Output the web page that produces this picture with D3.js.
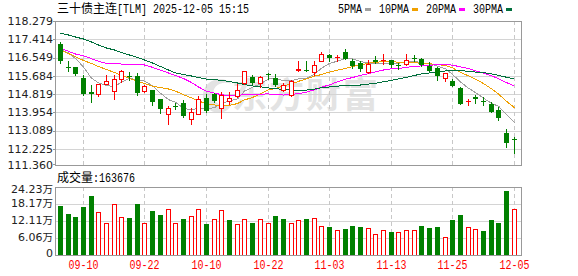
<!DOCTYPE html>
<html>
<head>
<meta charset="utf-8">
<script src="https://cdn.jsdelivr.net/npm/d3@7"></script>
<style>
body { margin: 0; background: #fff; }
svg { display: block; }
</style>
</head>
<body>
<svg id="chart" width="578" height="276"></svg>
<script>
var dates = ["09-05","09-08","09-09","09-10","09-11","09-12","09-15","09-16","09-17","09-18","09-19","09-22","09-23","09-24","09-25","09-26","09-29","09-30",
    "10-09","10-10","10-13","10-14","10-15","10-16","10-17","10-20","10-21","10-22","10-23","10-24","10-27","10-28","10-29","10-30","10-31",
    "11-03","11-04","11-05","11-06","11-07","11-10","11-11","11-12","11-13","11-14","11-17","11-18","11-19","11-20","11-21","11-24","11-25","11-26","11-27","11-28",
    "12-01","12-02","12-03","12-04","12-05"];

var opens = [117.203,116.100,116.085,115.563,114.900,114.819,115.308,114.938,115.516,115.682,115.672,114.985,115.009,114.583,113.895,114.265,114.379,113.649,113.895,114.639,
    114.796,114.165,114.497,114.734,115.322,115.635,115.327,115.758,115.601,115.000,114.758,115.924,115.971,115.862,116.398,116.653,116.544,116.796,116.398,116.289,
    115.862,116.445,116.431,116.417,116.217,116.255,116.535,116.478,116.132,116.028,115.587,115.436,115.104,114.455,114.654,114.507,114.346,114.061,112.971,112.673];
var highs = [117.284,116.398,116.090,115.720,115.246,115.308,115.720,115.720,115.957,115.876,115.838,115.246,115.020,114.600,114.251,114.393,114.535,114.156,114.725,114.819,
    114.853,114.924,114.891,115.270,115.910,115.706,115.672,115.838,115.744,115.330,115.497,116.360,116.369,116.398,116.796,116.715,116.653,116.952,116.492,116.398,
    116.445,116.606,116.715,116.420,116.289,116.715,116.653,116.526,116.336,116.085,115.815,115.545,115.137,114.583,114.782,114.654,114.440,114.180,113.161,112.805];
var lows = [116.289,115.895,115.720,114.772,114.426,114.739,115.270,114.583,115.374,115.483,114.772,114.928,114.298,113.929,113.412,114.132,113.715,113.398,113.862,113.957,
    114.440,113.692,114.346,114.677,115.310,115.317,115.128,115.507,115.222,114.980,114.710,115.920,115.890,115.734,116.369,116.398,116.398,116.490,116.052,115.924,
    115.815,116.289,116.241,116.085,116.018,116.208,116.398,116.132,115.920,115.483,115.436,115.184,114.336,114.312,114.393,114.275,113.952,113.587,112.331,112.033];
var closes = [116.398,116.070,115.753,114.819,114.805,115.279,115.436,115.516,115.909,115.658,114.881,115.184,114.417,114.132,114.156,114.251,113.791,113.952,114.597,114.023,
    114.497,114.763,114.639,115.000,115.900,115.355,115.625,115.739,115.255,115.240,115.412,116.014,115.895,116.180,116.715,116.526,116.563,116.492,116.161,116.018,
    116.241,116.336,116.454,116.180,116.203,116.445,116.521,116.180,115.924,115.649,115.805,115.199,114.355,114.474,114.592,114.488,113.976,113.682,112.497,112.654];
var volumes = [176200,146800,136200,171600,210500,152800,113900,181100,135100,132600,181100,113900,157400,143300,164500,113900,129100,138700,164500,110400,
    129100,160900,125600,110400,129100,115000,129100,115000,139700,129100,115000,125600,129100,133700,104300,100800,90200,93700,104300,100800,
    96200,75000,89100,83100,82100,90200,90200,104300,98300,100800,65400,125600,143300,100800,93700,86700,125600,115000,228100,163676];

// moving average values at the left edge, where the earlier closes are off the chart
var ma5Head = [116.928,116.762,116.502,116.099];
var ma10Head = [116.905,116.739,116.587,116.407,116.265,116.123,115.981,115.838,115.696];
var ma20Head = [116.999,116.843,116.715,116.635,116.492,116.369,116.274,116.250,116.241,116.241,116.227,116.194,116.085,115.943,115.815,115.696,115.554,115.365,115.151];
var ma30Head = [117.696,117.615,117.521,117.426,117.284,117.142,116.999,116.905,116.786,116.668,116.549,116.431,116.289,116.123,115.957,115.815,115.744,115.672,115.601,
    115.530,115.497,115.469,115.412,115.341,115.270,115.199,115.161,115.104,115.071];

var priceTicks = [118.279,117.414,116.549,115.684,114.819,113.954,113.089,112.225,111.360];
var volTicks = [242300,181700,121100,60600,0];
var volTickLabels = ["24.23万","18.17万","12.11万","6.06万","0"];
var dateTicks = ["09-10","09-22","10-10","10-22","11-03","11-13","11-25","12-05"];

var maNames = ["5PMA","10PMA","20PMA","30PMA"];
var maPeriods = [5,10,20,30];
var maHeads = [ma5Head, ma10Head, ma20Head, ma30Head];
var maColors = ["#a0a0a0","#f0a000","#ff00ff","#006f3c"];

var up = "#ff0000", down = "#008000", gridColor = "#d4d4d4", frameColor = "#999",
    mono = "'Liberation Mono', monospace", cjk = "'Noto Sans CJK SC', sans-serif",
    sans = "'DejaVu Sans', sans-serif";

var svg = d3.select("#chart"),
    main = {left: 56, right: 522, top: 21, bottom: 165},
    vol = {left: 56, right: 522, top: 187, bottom: 255};

var x = d3.scaleBand().domain(dates).range([56, 517.6]);
var y = d3.scaleLinear().domain([111.360, 118.279]).range([167, 21]);
var yv = d3.scaleLinear().domain([0, 242300]).range([255.5, 187]);

function cx(d) { return Math.round(x(d) + x.bandwidth() / 2); }
function px(v) { return Math.round(y(v)); }

var data = dates.map(function(d, i) {
    return {date: d, open: opens[i], high: highs[i], low: lows[i], close: closes[i], vol: volumes[i],
        up: closes[i] > opens[i],
        volUp: i === 0 ? closes[i] > opens[i] : closes[i] >= closes[i - 1]};
});

// monospace text squeezed to the 6px cell of the original bitmap font
function monoText(sel, str) {
    sel.append("tspan").attr("font-family", mono).attr("font-size", 12)
        .attr("textLength", str.length * 6).attr("lengthAdjust", "spacingAndGlyphs").text(str);
}

// ---- watermark
var wm = svg.append("g").attr("fill", "#e3e3e3");
wm.append("path")
    .attr("d", "M203,96 C203,80 222,74 232,84 C222,80 210,86 214,98 C217,108 230,108 232,100 C232,112 218,116 210,110 C205,106 203,101 203,96 Z");
wm.append("text").attr("x", 232).attr("y", 108)
    .attr("font-family", cjk).attr("font-weight", "bold").attr("font-size", 35).attr("letter-spacing", 2)
    .text("东方财富");

// ---- grids
var grid = svg.append("g").attr("shape-rendering", "crispEdges");
grid.selectAll(".hp").data(priceTicks.slice(1, -1)).enter().append("line")
    .attr("x1", main.left).attr("x2", main.right)
    .attr("y1", function(d) { return px(d) + 0.5; }).attr("y2", function(d) { return px(d) + 0.5; })
    .attr("stroke", gridColor);
grid.selectAll(".hv").data(volTicks.slice(1, -1)).enter().append("line")
    .attr("x1", vol.left).attr("x2", vol.right)
    .attr("y1", function(d) { return Math.round(yv(d)) + 0.5; }).attr("y2", function(d) { return Math.round(yv(d)) + 0.5; })
    .attr("stroke", gridColor);
[main, vol].forEach(function(p) {
    grid.selectAll(null).data(dateTicks).enter().append("line")
        .attr("x1", function(d) { return cx(d) + 0.5; }).attr("x2", function(d) { return cx(d) + 0.5; })
        .attr("y1", p.top).attr("y2", p.bottom)
        .attr("stroke", "#c8c8c8").attr("stroke-dasharray", "4,3");
});

// ---- moving averages
maPeriods.forEach(function(n, k) {
    var vals = data.map(function(d, i) {
        if (i < n - 1) return maHeads[k][i];
        return d3.mean(closes.slice(i - n + 1, i + 1));
    });
    svg.append("path")
        .datum(vals)
        .attr("fill", "none")
        .attr("stroke", maColors[k])
        .attr("stroke-width", 1)
        .attr("shape-rendering", "crispEdges")
        .attr("d", d3.line()
            .x(function(v, i) { return cx(dates[i]) + 0.5; })
            .y(function(v) { return y(v); }));
});

// ---- candles
var candle = svg.append("g").attr("shape-rendering", "crispEdges")
    .selectAll("g").data(data).enter().append("g");

candle.append("line")
    .attr("x1", function(d) { return cx(d.date) + 0.5; })
    .attr("x2", function(d) { return cx(d.date) + 0.5; })
    .attr("y1", function(d) { return px(d.high); })
    .attr("y2", function(d) { return px(d.low) + 1; })
    .attr("stroke", function(d) { return d.up ? up : down; });

candle.each(function(d) {
    var g = d3.select(this),
        top = px(Math.max(d.open, d.close)),
        bot = px(Math.min(d.open, d.close)),
        h = bot - top;
    if (d.up && h > 2) {
        g.append("rect")
            .attr("x", cx(d.date) - 1.5).attr("y", top + 0.5)
            .attr("width", 4).attr("height", h)
            .attr("fill", "#fff").attr("stroke", up);
    } else {
        g.append("rect")
            .attr("x", cx(d.date) - 2).attr("y", top)
            .attr("width", 5).attr("height", Math.max(1, h))
            .attr("fill", d.up ? up : down);
    }
});

// ---- volume bars
svg.append("g").attr("shape-rendering", "crispEdges")
    .selectAll("rect").data(data).enter().append("rect")
    .attr("fill", function(d) { return d.volUp ? "#fff" : down; })
    .attr("stroke", function(d) { return d.volUp ? up : "none"; })
    .attr("x", function(d) { return d.volUp ? cx(d.date) - 1.5 : cx(d.date) - 2; })
    .attr("y", function(d) { return Math.round(yv(d.vol)) + (d.volUp ? 0.5 : 0); })
    .attr("width", function(d) { return d.volUp ? 4 : 5; })
    .attr("height", function(d) { return vol.bottom - Math.round(yv(d.vol)) - (d.volUp ? 0.5 : 0); });

// ---- frames
var frames = svg.append("g").attr("shape-rendering", "crispEdges").attr("fill", "none").attr("stroke", frameColor);
[main, vol].forEach(function(p) {
    frames.append("rect")
        .attr("x", p.left - 0.5).attr("y", p.top + 0.5)
        .attr("width", p.right - p.left).attr("height", p.bottom - p.top);
});

// ---- axes labels
var axis = svg.append("g").attr("font-family", sans).attr("font-size", 11).attr("fill", "#222").attr("text-anchor", "end");
axis.selectAll(".pl").data(priceTicks).enter().append("text")
    .attr("x", 53)
    .attr("y", function(d) { return Math.min(main.bottom, y(d)); })
    .attr("dy", "0.36em")
    .text(function(d) { return d3.format(".3f")(d); });
svg.append("g").attr("shape-rendering", "crispEdges").selectAll("line").data(priceTicks).enter().append("line")
    .attr("x1", 53).attr("x2", 56)
    .attr("y1", function(d) { return Math.min(main.bottom - 1, px(d)) + 0.5; })
    .attr("y2", function(d) { return Math.min(main.bottom - 1, px(d)) + 0.5; })
    .attr("stroke", frameColor);

axis.selectAll(".vl").data(volTicks).enter().append("text")
    .attr("x", 53)
    .attr("y", function(d) { return Math.max(vol.top + 2, Math.min(vol.bottom - 2, yv(d) - 1)); })
    .attr("dy", "0.36em")
    .each(function(d, i) {
        var lab = volTickLabels[i], t = d3.select(this);
        if (lab.slice(-1) === "万") {
            t.append("tspan").text(lab.slice(0, -1));
            t.append("tspan").attr("font-family", cjk).attr("font-size", 10.5).text("万");
        } else {
            t.text(lab);
        }
    });

svg.append("g").selectAll("text").data(dateTicks).enter().append("text")
    .attr("x", function(d) { return cx(d) + 0.5; })
    .attr("y", 269)
    .attr("text-anchor", "middle")
    .attr("fill", up)
    .each(function(d) { monoText(d3.select(this), d); });

// ---- title, legend, volume caption
var title = svg.append("text").attr("x", 57).attr("y", 13).attr("fill", "#000");
title.append("tspan").attr("font-family", cjk).attr("font-size", 12).text("三十债主连");
monoText(title, "[TLM] 2025-12-05 15:15");

var lx = 338;
maNames.forEach(function(name, k) {
    var t = svg.append("text").attr("x", lx).attr("y", 13).attr("fill", "#000");
    monoText(t, name);
    var w = name.length * 6;
    svg.append("rect").attr("x", lx + w + 3).attr("y", 8).attr("width", 6).attr("height", 3)
        .attr("fill", maColors[k]);
    lx += w + 3 + 6 + 8;
});

var cap = svg.append("text").attr("x", 57).attr("y", 182).attr("fill", "#000");
cap.append("tspan").attr("font-family", cjk).attr("font-size", 12).text("成交量");
monoText(cap, ":" + volumes[volumes.length - 1]);
</script>
</body>
</html>
